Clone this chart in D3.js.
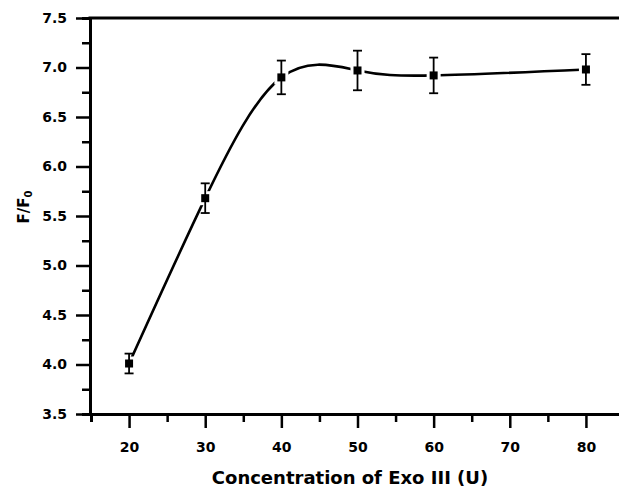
<!DOCTYPE html>
<html>
<head>
<meta charset="utf-8">
<script src="https://cdn.jsdelivr.net/npm/d3@7"></script>
<style>
  html, body { margin: 0; padding: 0; background: #fff; }
  svg { display: block; }
  .tick text { font-family: "DejaVu Sans", sans-serif; font-weight: bold; font-size: 14px; fill: #000; }
</style>
</head>
<body>
<svg id="chart" width="619" height="494"></svg>
<script>
// Exo III concentration (U) and the measured F/F0 ratio with its error
const concentrations = [20, 30, 40, 50, 60, 80];
const ratios = [4.01, 5.68, 6.90, 6.97, 6.92, 6.98];
const errors = [0.10, 0.15, 0.17, 0.20, 0.18, 0.155];

const xMajorTicks = [20, 30, 40, 50, 60, 70, 80];
const xMinorTicks = [15, 25, 35, 45, 55, 65, 75, 85];
const yMajorTicks = [3.5, 4.0, 4.5, 5.0, 5.5, 6.0, 6.5, 7.0, 7.5];
const yMinorTicks = [3.75, 4.25, 4.75, 5.25, 5.75, 6.25, 6.75, 7.25];

const svg = d3.select("#chart");

const x = d3.scaleLinear().domain([15, 85]).range([91, 624]);
const y = d3.scaleLinear().domain([3.5, 7.5]).range([414, 18]);

// minor ticks first, majors with labels over them
function styleAxis(g, width) {
  g.select(".domain").attr("stroke", "#000").attr("stroke-width", 3);
  g.selectAll(".tick line").attr("stroke", "#000").attr("stroke-width", width);
}

svg.append("g")
  .attr("transform", `translate(0,${y(3.5)})`)
  .call(d3.axisBottom(x).tickValues(xMinorTicks).tickSize(8).tickFormat(""))
  .call(g => styleAxis(g, 2.5));

svg.append("g")
  .attr("transform", `translate(0,${y(3.5)})`)
  .call(d3.axisBottom(x).tickValues(xMajorTicks).tickSize(14).tickPadding(14).tickFormat(d3.format("d")).tickSizeOuter(0))
  .call(g => styleAxis(g, 2.5));

svg.append("g")
  .attr("transform", `translate(${x(15) - 1},0)`)
  .call(d3.axisLeft(y).tickValues(yMinorTicks).tickSize(8).tickFormat(""))
  .call(g => styleAxis(g, 2.5));

svg.append("g")
  .attr("transform", `translate(${x(15) - 1},0)`)
  .call(d3.axisLeft(y).tickValues(yMajorTicks).tickSize(14).tickPadding(9).tickFormat(d3.format(".1f")).tickSizeOuter(0))
  .call(g => styleAxis(g, 2.5));

// top frame line
svg.append("line")
  .attr("x1", x(15) - 2.5).attr("x2", x(85))
  .attr("y1", y(7.5)).attr("y2", y(7.5))
  .attr("stroke", "#000").attr("stroke-width", 3);

const points = concentrations.map((c, i) => ({ c, v: ratios[i], e: errors[i] }));

// smooth spline through the means
const line = d3.line()
  .x(d => x(d.c))
  .y(d => y(d.v))
  .curve(d3.curveNatural);

svg.append("path")
  .datum(points)
  .attr("d", line)
  .attr("fill", "none")
  .attr("stroke", "#000")
  .attr("stroke-width", 2.6);

// clear a small gap in the line around each symbol
const gap = 14;
svg.append("g").selectAll("rect").data(points).join("rect")
  .attr("x", d => x(d.c) - gap / 2)
  .attr("y", d => y(d.v) - gap / 2)
  .attr("width", gap).attr("height", gap)
  .attr("fill", "#fff");

// error bars
const cap = 9;
const bars = svg.append("g").attr("stroke", "#000").attr("stroke-width", 1.8);
bars.selectAll("line.v").data(points).join("line")
  .attr("class", "v")
  .attr("x1", d => x(d.c)).attr("x2", d => x(d.c))
  .attr("y1", d => y(d.v + d.e)).attr("y2", d => y(d.v - d.e));
bars.selectAll("line.top").data(points).join("line")
  .attr("class", "top")
  .attr("x1", d => x(d.c) - cap / 2).attr("x2", d => x(d.c) + cap / 2)
  .attr("y1", d => y(d.v + d.e)).attr("y2", d => y(d.v + d.e));
bars.selectAll("line.bot").data(points).join("line")
  .attr("class", "bot")
  .attr("x1", d => x(d.c) - cap / 2).attr("x2", d => x(d.c) + cap / 2)
  .attr("y1", d => y(d.v - d.e)).attr("y2", d => y(d.v - d.e));

// square symbols
const sym = 8;
svg.append("g").selectAll("rect").data(points).join("rect")
  .attr("x", d => x(d.c) - sym / 2)
  .attr("y", d => y(d.v) - sym / 2)
  .attr("width", sym).attr("height", sym)
  .attr("fill", "#000");

// axis titles
svg.append("text")
  .attr("x", 350).attr("y", 484)
  .attr("text-anchor", "middle")
  .style("font-family", "'DejaVu Sans', sans-serif")
  .style("font-weight", "bold")
  .style("font-size", "18px")
  .text("Concentration of Exo III (U)");

const yTitle = svg.append("text")
  .attr("transform", "translate(29,207) rotate(-90)")
  .attr("text-anchor", "middle")
  .style("font-family", "'DejaVu Sans', sans-serif")
  .style("font-weight", "bold")
  .style("font-size", "15px");
yTitle.append("tspan").text("F/F");
yTitle.append("tspan").attr("dy", 3).style("font-size", "10px").text("0");
</script>
</body>
</html>
